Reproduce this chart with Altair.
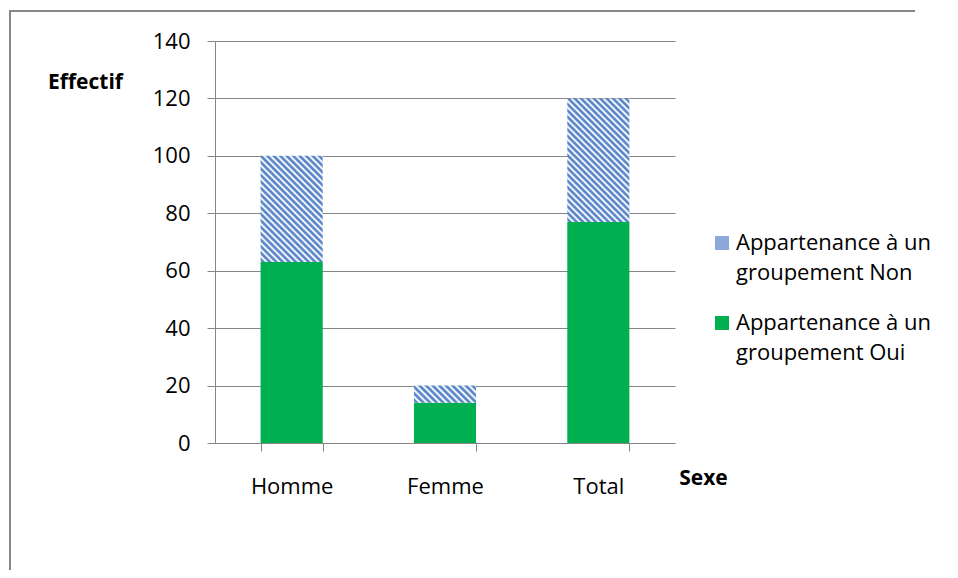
import math
import altair as alt
import pandas as pd

# ---- data ----
categories = ["Homme", "Femme", "Total"]
oui_values = [63, 14, 77]
non_values = [37, 6, 43]
series_labels = ["Appartenance à un\ngroupement Non", "Appartenance à un\ngroupement Oui"]
y_ticks = [0, 20, 40, 60, 80, 100, 120, 140]

# ---- layout / style ----
W, H = 460, 402
PAD = {"left": 207, "top": 33, "right": 275, "bottom": 127}
YMAX = 140
P_INNER = 0.595
FONT = "Open Sans"
FS = 22
FS_TITLE = 21
GREEN = "#00B050"
BLUE = "#5B87C8"
BLUE_SOLID = "#8DA9DB"
GRID = "#868686"

df = pd.DataFrame({"Sexe": categories, "Oui": oui_values, "Non": non_values})
df["Total"] = df["Oui"] + df["Non"]
df["groupe"] = series_labels[1]

bar_w = (W / len(categories)) * (1 - P_INNER)


def stripe_gradient(h_px, w_px=bar_w, pitch=4.6):
    k = (w_px + h_px) / (w_px ** 2 + h_px ** 2)
    n = max(1, round((w_px + h_px) / (math.sqrt(2) * pitch)))
    stops = []
    for i in range(n):
        for frac, col in ((0.0, "#FFFFFF"), (0.3, BLUE), (0.6, BLUE), (0.9, "#FFFFFF")):
            stops.append({"offset": min(1.0, (i + frac) / n), "color": col})
    stops.append({"offset": 1.0, "color": "#FFFFFF"})
    return {"gradient": "linear", "x1": 0, "y1": 1, "x2": k * w_px, "y2": 1 - k * h_px,
            "stops": stops}


x_scale = alt.Scale(domain=categories, paddingInner=P_INNER, paddingOuter=P_INNER / 2)
x_axis = alt.Axis(
    title="Sexe", titleFontWeight="bold", titleFontSize=FS_TITLE, titleFont=FONT,
    titleX=488, titleY=35, titleAlign="center", titleBaseline="middle",
    labelAngle=0, labelFontSize=FS, labelFont=FONT, labelColor="#000000", labelPadding=25,
    tickBand="extent", tickSize=8, tickColor=GRID, domainColor=GRID, grid=False,
)
y_scale = alt.Scale(domain=[0, YMAX], nice=False)
y_axis = alt.Axis(
    values=y_ticks, title="Effectif", titleAngle=0, titleFontWeight="bold",
    titleFontSize=FS_TITLE, titleFont=FONT, titleX=-130, titleY=41,
    titleAlign="center", titleBaseline="middle",
    labelFontSize=FS, labelFont=FONT, labelColor="#000000", labelPadding=17,
    tickSize=8, tickColor=GRID, domainColor=GRID, grid=True, gridColor=GRID,
)

base = alt.Chart(df)
frame_src = alt.Data(values=[{"f": 1}])

frame_top = alt.Chart(frame_src).mark_rule(stroke=GRID, strokeWidth=2).encode(
    x=alt.value(-206), x2=alt.value(700), y=alt.value(-30)
)
frame_left = alt.Chart(frame_src).mark_rule(stroke=GRID, strokeWidth=2).encode(
    x=alt.value(-205), y=alt.value(-31), y2=alt.value(540)
)

oui_layer = base.mark_bar().encode(
    x=alt.X("Sexe:N", sort=categories, scale=x_scale, axis=x_axis),
    y=alt.Y("Oui:Q", scale=y_scale, axis=y_axis),
    color=alt.Color(
        "groupe:N",
        scale=alt.Scale(domain=series_labels, range=[BLUE_SOLID, GREEN]),
        legend=alt.Legend(
            title=None, orient="none", legendX=496, legendY=191, padding=0,
            symbolType="square", symbolSize=196, symbolStrokeWidth=0,
            labelExpr="split(datum.label, '\\n')", labelFontSize=FS, labelFont=FONT,
            labelColor="#000000", labelOffset=3, labelLimit=400, rowPadding=28,
        ),
    ),
)

non_layers = []
for cat, nv in zip(categories, non_values):
    h_px = nv * H / YMAX
    non_layers.append(
        base.transform_filter(alt.datum.Sexe == cat).mark_bar().encode(
            x=alt.X("Sexe:N", sort=categories, scale=x_scale),
            y=alt.Y("Oui:Q", scale=y_scale),
            y2="Total:Q",
            color=alt.value(stripe_gradient(h_px)),
        )
    )

chart = alt.layer(frame_top, frame_left, oui_layer, *non_layers).properties(
    width=W, height=H, autosize=alt.AutoSizeParams(type="none"), padding=PAD,
    background="#FFFFFF",
).configure(
    font=FONT, style={"guide-label": {"lineHeight": 30}}
).configure_view(stroke=None)

chart.save("out.html", embed_options={"renderer": "svg", "actions": False})
